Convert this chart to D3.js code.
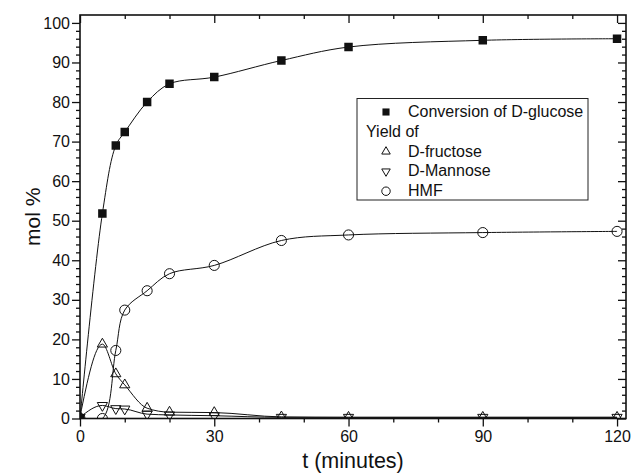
<!DOCTYPE html>
<html>
<head>
<meta charset="utf-8">
<script src="https://cdn.jsdelivr.net/npm/d3@7"></script>
<style>
  html, body { margin: 0; padding: 0; background: #fff; }
  svg { display: block; }
  text { font-family: "Liberation Sans", Arial, Helvetica, sans-serif; fill: #111; }
</style>
</head>
<body>
<svg id="chart" width="632" height="474"></svg>
<script>
// ---- data ----
const times = [0, 5, 8, 10, 15, 20, 30, 45, 60, 90, 120];
const glucose = [0, 51.8, 69, 72.4, 80, 84.6, 86.3, 90.5, 93.9, 95.6, 96];
const fructose = [0.5, 18.8, 11.3, 8.5, 2.6, 1.6, 1.5, 0.4, 0.3, 0.3, 0.3];
const mannose = [0.3, 3.3, 2.5, 2.4, 1.1, 0.9, 0.7, 0.3, 0.3, 0.3, 0.3];
const hmf = [0, 0, 17.2, 27.4, 32.3, 36.6, 38.7, 45, 46.4, 47, 47.3];
const xMajorTicks = [0, 30, 60, 90, 120];
const yMajorTicks = [0, 10, 20, 30, 40, 50, 60, 70, 80, 90, 100];
const legendLabels = ["Conversion of D-glucose", "Yield of", "D-fructose", "D-Mannose", "HMF"];

const svg = d3.select("#chart");
const L = 80, R = 626, T = 15, B = 418.5;
const x = d3.scaleLinear().domain([0, 122]).range([L, R]);
const y = d3.scaleLinear().domain([0, 102]).range([B, T]);

const xMinor = d3.range(0, 121, 10).filter(v => !xMajorTicks.includes(v));
const yMinor = d3.range(0, 101, 2).filter(v => !yMajorTicks.includes(v));
const FONT = '"Liberation Sans", Arial, sans-serif';

function styleAxis(g) {
  g.select(".domain").remove();
  g.selectAll(".tick line").attr("stroke", "#111").attr("stroke-width", 1.3);
}
function styleText(g) {
  g.selectAll("text").attr("font-size", 16).style("font-family", FONT).attr("fill", "#111");
}

// bottom axis
svg.append("g").attr("transform", `translate(0,${B})`)
  .call(d3.axisBottom(x).tickValues(xMajorTicks).tickSize(8).tickPadding(4).tickFormat(d3.format("d")))
  .call(styleAxis).call(styleText);
svg.append("g").attr("transform", `translate(0,${B})`)
  .call(d3.axisBottom(x).tickValues(xMinor).tickSize(4).tickFormat(""))
  .call(styleAxis);
// top axis (inward)
svg.append("g").attr("transform", `translate(0,${T})`)
  .call(d3.axisBottom(x).tickValues(xMajorTicks).tickSize(8).tickFormat(""))
  .call(styleAxis);
svg.append("g").attr("transform", `translate(0,${T})`)
  .call(d3.axisBottom(x).tickValues(xMinor).tickSize(4).tickFormat(""))
  .call(styleAxis);
// left axis
svg.append("g").attr("transform", `translate(${L},0)`)
  .call(d3.axisLeft(y).tickValues(yMajorTicks).tickSize(8).tickPadding(2).tickFormat(d3.format("d")))
  .call(styleAxis).call(styleText);
svg.append("g").attr("transform", `translate(${L},0)`)
  .call(d3.axisLeft(y).tickValues(yMinor).tickSize(4).tickFormat(""))
  .call(styleAxis);
// right axis (inward)
svg.append("g").attr("transform", `translate(${R},0)`)
  .call(d3.axisLeft(y).tickValues(yMajorTicks).tickSize(8).tickFormat(""))
  .call(styleAxis);
svg.append("g").attr("transform", `translate(${R},0)`)
  .call(d3.axisLeft(y).tickValues(yMinor).tickSize(4).tickFormat(""))
  .call(styleAxis);

// frame
svg.append("rect").attr("x", L).attr("y", T).attr("width", R - L).attr("height", B - T)
  .attr("fill", "none").attr("stroke", "#111").attr("stroke-width", 1.6);

// clip
svg.append("clipPath").attr("id", "plotclip").append("rect")
  .attr("x", L).attr("y", T).attr("width", R - L).attr("height", B - T);
const plot = svg.append("g").attr("clip-path", "url(#plotclip)");

const seriesList = [
  { vals: glucose, sym: "square", curve: d3.curveCatmullRom.alpha(0.5) },
  { vals: fructose, sym: "up", curve: d3.curveMonotoneX },
  { vals: mannose, sym: "down", curve: d3.curveMonotoneX },
  { vals: hmf, sym: "circle", curve: d3.curveCatmullRom.alpha(0.5) }
];
seriesList.forEach(s => {
  const line = d3.line().x(d => x(d[0])).y(d => y(d[1])).curve(s.curve);
  plot.append("path").datum(times.map((t, i) => [t, s.vals[i]]))
    .attr("d", line).attr("fill", "none").attr("stroke", "#111").attr("stroke-width", 1);
});

function symbolPath(sym, scale) {
  if (sym === "square") return d3.symbol(d3.symbolSquare, 72 * scale)();
  if (sym === "circle") return d3.symbol(d3.symbolCircle, 80 * scale)();
  return d3.symbol(d3.symbolTriangle, 45 * scale)();
}
function drawMarker(g, sym, cx, cy, scale) {
  const p = g.append("path").attr("d", symbolPath(sym, scale))
    .attr("transform", `translate(${cx},${cy})` + (sym === "down" ? " rotate(180)" : ""));
  if (sym === "square") p.attr("fill", "#111").attr("stroke", "none");
  else p.attr("fill", "none").attr("stroke", "#111").attr("stroke-width", 1);
}
seriesList.forEach(s => {
  times.forEach((t, i) => drawMarker(plot, s.sym, x(t), y(s.vals[i]), 1));
});

// legend
const lg = svg.append("g");
lg.append("rect").attr("x", 357).attr("y", 98.5).attr("width", 231).attr("height", 101.5)
  .attr("fill", "#fff").attr("stroke", "#222").attr("stroke-width", 1);
const legendSyms = ["square", null, "up", "down", "circle"];
legendLabels.forEach((lab, i) => {
  const by = 117 + i * 19.8;
  if (legendSyms[i]) {
    drawMarker(lg, legendSyms[i], 386, by - 5, 0.7);
    lg.append("text").attr("x", 408).attr("y", by).attr("font-size", 16).text(lab);
  } else {
    lg.append("text").attr("x", 366).attr("y", by).attr("font-size", 16).text(lab);
  }
});

// axis titles
svg.append("text").attr("x", (L + R) / 2).attr("y", 468).attr("text-anchor", "middle")
  .attr("font-size", 21.5).text("t (minutes)");
svg.append("text").attr("transform", `translate(40,${(T + B) / 2}) rotate(-90)`)
  .attr("text-anchor", "middle").attr("font-size", 21).text("mol %");
</script>
</body>
</html>
